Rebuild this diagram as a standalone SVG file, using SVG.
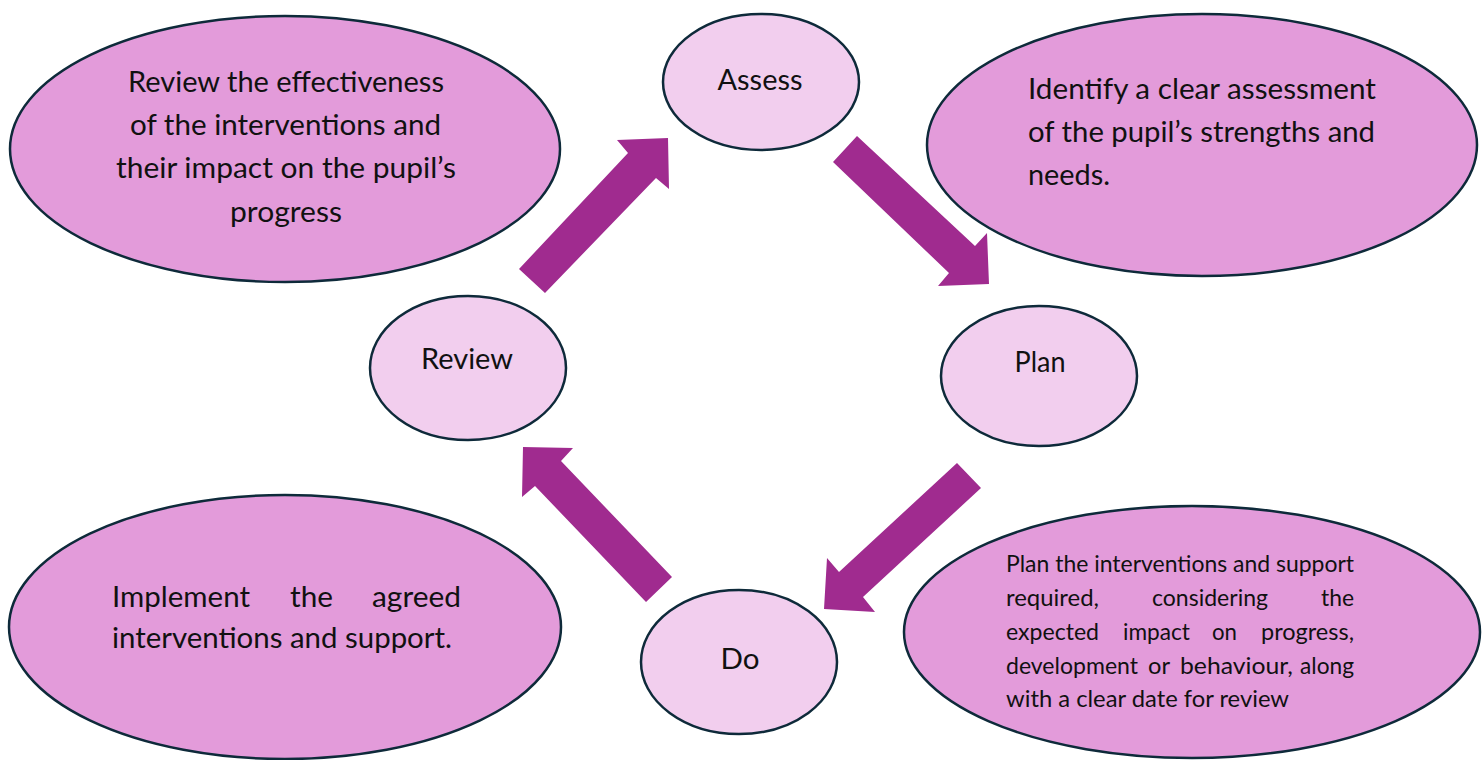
<svg xmlns="http://www.w3.org/2000/svg" width="1484" height="760" viewBox="0 0 1484 760">
<style>
.big{fill:#E39BDA;stroke:#0E2A3A;stroke-width:2.5}
.small{fill:#F2CEEE;stroke:#0E2A3A;stroke-width:2.5}
.arrow{fill:#A02B8F}
text{font-family:Lato,"Liberation Sans",sans-serif;fill:#111;}
.t{font-size:28px}
.s{font-size:23px}
.lbl{font-size:28px;text-anchor:middle}
</style>
<rect width="1484" height="760" fill="#fff"/>
<g id="connectors">
<polygon class="arrow" points="519,269 628,153 617,140 668,138 669,189 656,178 545,293"/>
<polygon class="arrow" points="857,136 975,246 987,233 989,284 938,286 949,273 833,162"/>
<polygon class="arrow" points="957,463 981,488 863,597 875,612 824,609 827,558 839,572"/>
<polygon class="arrow" points="672,577 646,602 535,486 522,497 523,447 573,448 561,461"/>
</g>
<g id="note-review">
<ellipse class="big" cx="285" cy="149" rx="275" ry="133"/>
<text class="t" x="128" y="92" textLength="316" lengthAdjust="spacingAndGlyphs">Review the effectiveness</text>
<text class="t" x="130" y="135" textLength="311" lengthAdjust="spacingAndGlyphs">of the interventions and</text>
<text class="t" x="116" y="178" textLength="340" lengthAdjust="spacingAndGlyphs">their impact on the pupil’s</text>
<text class="t" x="230" y="222" textLength="112" lengthAdjust="spacingAndGlyphs">progress</text>
</g>
<g id="note-assess">
<ellipse class="big" cx="1202" cy="145" rx="275" ry="131"/>
<text class="t" x="1028" y="99" textLength="348" lengthAdjust="spacingAndGlyphs">Identify a clear assessment</text>
<text class="t" x="1028" y="142" textLength="347" lengthAdjust="spacingAndGlyphs">of the pupil’s strengths and</text>
<text class="t" x="1028" y="185" textLength="82" lengthAdjust="spacingAndGlyphs">needs.</text>
</g>
<g id="note-do">
<ellipse class="big" cx="285" cy="627" rx="276" ry="132"/>
<text class="t" x="112" y="607" textLength="138" lengthAdjust="spacingAndGlyphs">Implement</text>
<text class="t" x="290" y="607" textLength="43" lengthAdjust="spacingAndGlyphs">the</text>
<text class="t" x="372" y="607" textLength="89" lengthAdjust="spacingAndGlyphs">agreed</text>
<text class="t" x="112" y="648" textLength="340" lengthAdjust="spacingAndGlyphs">interventions and support.</text>
</g>
<g id="note-plan">
<ellipse class="big" cx="1192" cy="632" rx="288" ry="126"/>
<text class="s" x="1006" y="572" textLength="348" lengthAdjust="spacingAndGlyphs">Plan the interventions and support</text>
<text class="s" x="1006" y="606" textLength="93" lengthAdjust="spacingAndGlyphs">required,</text>
<text class="s" x="1152" y="606" textLength="116" lengthAdjust="spacingAndGlyphs">considering</text>
<text class="s" x="1321" y="606" textLength="33" lengthAdjust="spacingAndGlyphs">the</text>
<text class="s" x="1006" y="640" textLength="93" lengthAdjust="spacingAndGlyphs">expected</text>
<text class="s" x="1123" y="640" textLength="67" lengthAdjust="spacingAndGlyphs">impact</text>
<text class="s" x="1212" y="640" textLength="25" lengthAdjust="spacingAndGlyphs">on</text>
<text class="s" x="1261" y="640" textLength="93" lengthAdjust="spacingAndGlyphs">progress,</text>
<text class="s" x="1006" y="674" textLength="132" lengthAdjust="spacingAndGlyphs">development</text>
<text class="s" x="1148" y="674" textLength="22" lengthAdjust="spacingAndGlyphs">or</text>
<text class="s" x="1180" y="674" textLength="113" lengthAdjust="spacingAndGlyphs">behaviour,</text>
<text class="s" x="1300" y="674" textLength="54" lengthAdjust="spacingAndGlyphs">along</text>
<text class="s" x="1006" y="707" textLength="283" lengthAdjust="spacingAndGlyphs">with a clear date for review</text>
</g>
<g id="assess">
<ellipse class="small" cx="761" cy="82" rx="98" ry="68"/>
<text class="lbl" x="760" y="90" textLength="85" lengthAdjust="spacingAndGlyphs">Assess</text>
</g>
<g id="plan">
<ellipse class="small" cx="1039" cy="376" rx="98" ry="70"/>
<text class="lbl" x="1040" y="372" textLength="51" lengthAdjust="spacingAndGlyphs">Plan</text>
</g>
<g id="do">
<ellipse class="small" cx="739" cy="662" rx="98" ry="72"/>
<text class="lbl" x="740" y="669" textLength="39" lengthAdjust="spacingAndGlyphs">Do</text>
</g>
<g id="review">
<ellipse class="small" cx="468" cy="368" rx="98" ry="72"/>
<text class="lbl" x="467" y="369" textLength="92" lengthAdjust="spacingAndGlyphs">Review</text>
</g>
</svg>
